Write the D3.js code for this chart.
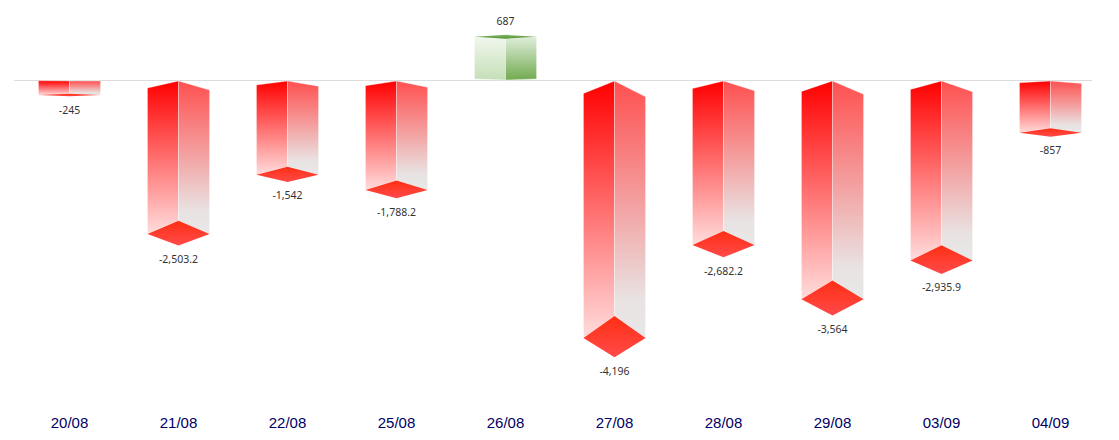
<!DOCTYPE html>
<html>
<head>
<meta charset="utf-8">
<script src="https://cdn.jsdelivr.net/npm/d3@7"></script>
<style>
html, body { margin: 0; padding: 0; background: #fff; }
svg { display: block; }
</style>
</head>
<body>
<div id="chart"></div>
<script>
var fechas = ["20/08", "21/08", "22/08", "25/08", "26/08", "27/08", "28/08", "29/08", "03/09", "04/09"];
var valores = [-245, -2503.2, -1542, -1788.2, 687, -4196, -2682.2, -3564, -2935.9, -857];
var etiquetas = ["-245", "-2,503.2", "-1,542", "-1,788.2", "687", "-4,196", "-2,682.2", "-3,564", "-2,935.9", "-857"];

var width = 1119, height = 440;

var x = d3.scaleBand().domain(fechas).range([15, 1105]).paddingInner(0.43).paddingOuter(0.215);
var y = d3.scaleLinear().domain([0, -4196]).range([80, 338]);

var svg = d3.select("#chart").append("svg")
    .attr("width", width)
    .attr("height", height);

// Degradados de cada cara
var defs = svg.append("defs");
function degradado(id, paradas) {
    var g = defs.append("linearGradient").attr("id", id)
        .attr("x1", 0).attr("y1", 0).attr("x2", 0).attr("y2", 1);
    paradas.forEach(function(p) {
        g.append("stop").attr("offset", p[0]).attr("stop-color", p[1]);
    });
}
degradado("rojoIzq", [[0, "#ff0000"], [1, "#ffdcdc"]]);
degradado("rojoDer", [[0, "#ff5050"], [0.5, "#f3a4a4"], [0.85, "#e9e2e2"], [1, "#e8e8e8"]]);
degradado("rojoBase", [[0, "#ff2f14"], [1, "#ff4a4a"]]);
degradado("verdeIzq", [[0, "#f1f7ed"], [1, "#c5dfb8"]]);
degradado("verdeDer", [[0, "#dfeeda"], [1, "#72aa50"]]);
degradado("verdeBase", [[0, "#8dbb70"], [1, "#4e8f2c"]]);

// Línea base
svg.append("line")
    .attr("x1", 14)
    .attr("x2", 1092)
    .attr("y1", y(0) + 0.5)
    .attr("y2", y(0) + 0.5)
    .attr("stroke", "#dcdcdc");

var barras = svg.selectAll("g.barra").data(valores).enter()
    .append("g")
    .attr("class", "barra");

function puntos(p) {
    return p.map(function(d) { return d.join(","); }).join(" ");
}

function cara(g, p, color) {
    g.append("polygon")
        .attr("points", puntos(p))
        .attr("fill", color)
        .attr("stroke", "#ffffff")
        .attr("stroke-opacity", 0.35)
        .attr("stroke-width", 1);
}

barras.each(function(d, i) {
    var g = d3.select(this);
    var xc = x(fechas[i]) + x.bandwidth() / 2;
    var mitad = x.bandwidth() / 2;
    var y0 = y(0), yv = y(d);
    var alto = Math.abs(yv - y0);
    var atras = alto * 0.085, frente = alto * 0.075;

    if (d < 0) {
        // Caras laterales y rombo inferior
        cara(g, [[xc - mitad, y0 + alto * 0.052], [xc, y0 + 1], [xc, yv - atras], [xc - mitad, yv]], "url(#rojoIzq)");
        cara(g, [[xc, y0 + 1], [xc + mitad, y0 + alto * 0.065], [xc + mitad, yv], [xc, yv - atras]], "url(#rojoDer)");
        g.append("polygon")
            .attr("points", puntos([[xc, yv - atras], [xc + mitad, yv], [xc, yv + frente], [xc - mitad, yv]]))
            .attr("fill", "url(#rojoBase)");
    } else {
        cara(g, [[xc - mitad, yv - 1], [xc, yv + 1], [xc, y0], [xc - mitad, y0 - 1]], "url(#verdeIzq)");
        cara(g, [[xc, yv + 1], [xc + mitad, yv - 1], [xc + mitad, y0 - 1], [xc, y0]], "url(#verdeDer)");
        g.append("polygon")
            .attr("points", puntos([[xc, yv - 3], [xc + mitad, yv - 1], [xc, yv + 1], [xc - mitad, yv - 1]]))
            .attr("fill", "url(#verdeBase)");
    }

    // Etiqueta de valor
    g.append("text")
        .attr("x", xc)
        .attr("y", d < 0 ? yv + frente + 14.5 : yv - 16)
        .attr("text-anchor", "middle")
        .attr("dominant-baseline", "middle")
        .style("font-family", "'Noto Sans', sans-serif")
        .style("font-size", "10.5px")
        .style("fill", "#333")
        .text(etiquetas[i]);
});

// Eje de fechas
var ejeX = d3.axisBottom(x).tickSize(0).tickPadding(0);
var eje = svg.append("g")
    .attr("transform", "translate(0,417)")
    .call(ejeX);
eje.select(".domain").remove();
eje.selectAll("text")
    .style("font-family", "'Liberation Sans', Arial, sans-serif")
    .style("font-size", "15px")
    .style("fill", "#000066");
</script>
</body>
</html>
